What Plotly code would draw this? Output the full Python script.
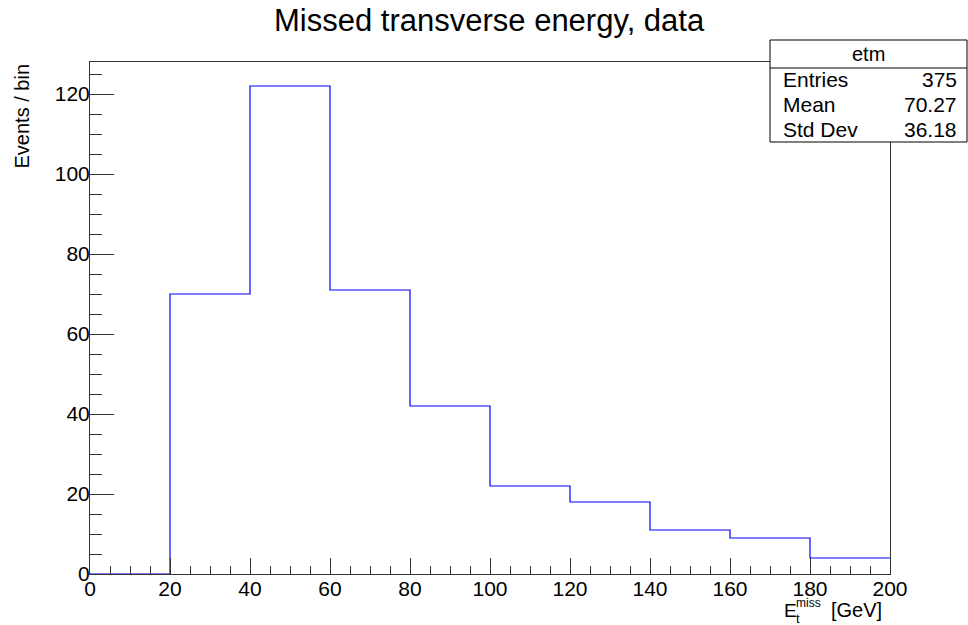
import plotly.graph_objects as go

# ---- data ----
bin_edges = [0, 20, 40, 60, 80, 100, 120, 140, 160, 180, 200]
counts = [0, 70, 122, 71, 42, 22, 18, 11, 9, 4]
x_tickvals = [0, 20, 40, 60, 80, 100, 120, 140, 160, 180, 200]
y_tickvals = [0, 20, 40, 60, 80, 100, 120]
stats_name = "etm"
stats_labels = ["Entries", "Mean", "Std Dev"]
stats_values = ["375", "70.27", "36.18"]

W, H = 968, 625
L, R, T, B = 90, 78, 62, 51
PW, PH = W - L - R, H - T - B

def px(xp):
    return (xp - L) / PW

def py(yp):
    return (H - B - yp) / PH

FONT = "Liberation Sans, Arial, Helvetica, sans-serif"
AX = "#333333"

fig = go.Figure()
fig.add_trace(go.Scatter(
    x=bin_edges,
    y=counts + [counts[-1]],
    mode="lines",
    line=dict(color="#0000ff", width=1.2, shape="hv"),
    hoverinfo="skip",
    showlegend=False,
))

axis_common = dict(
    showgrid=False, zeroline=False, showline=True, mirror=True,
    linecolor=AX, linewidth=1, ticks="inside", tickcolor=AX,
    tickfont=dict(family=FONT, size=21, color="black"),
)

fig.update_layout(
    width=W, height=H,
    margin=dict(l=L, r=R, t=T, b=B),
    paper_bgcolor="white", plot_bgcolor="white",
    font=dict(family=FONT, color="black"),
    xaxis=dict(range=[0, 200], tickvals=x_tickvals, ticklen=16, ticklabelstandoff=-4,
               minor=dict(dtick=5, ticklen=8, ticks="inside", tickcolor=AX, showgrid=False),
               **axis_common),
    yaxis=dict(range=[0, 128], tickvals=y_tickvals, ticklen=24, ticklabelstandoff=-5,
               minor=dict(dtick=5, ticklen=12, ticks="inside", tickcolor=AX, showgrid=False),
               **axis_common),
)

# title
fig.add_annotation(text="Missed transverse energy, data", xref="paper", yref="paper",
                   x=px(489), y=py(20), xanchor="center", yanchor="middle",
                   showarrow=False, font=dict(family=FONT, size=31, color="black"))

# y axis title
fig.add_annotation(text="Events / bin", xref="paper", yref="paper",
                   x=px(21), y=py(62), xanchor="center", yanchor="top", textangle=-90,
                   showarrow=False, font=dict(family=FONT, size=20, color="black"))

# x axis title: E with stacked sub/superscript, then unit
fig.add_annotation(text="E", xref="paper", yref="paper",
                   x=px(782), y=py(610), xanchor="left", yanchor="middle",
                   showarrow=False, font=dict(family=FONT, size=19, color="black"))
fig.add_annotation(text="miss", xref="paper", yref="paper",
                   x=px(794), y=py(603), xanchor="left", yanchor="middle",
                   showarrow=False, font=dict(family=FONT, size=12, color="black"))
fig.add_annotation(text="t", xref="paper", yref="paper",
                   x=px(794), y=py(618), xanchor="left", yanchor="middle",
                   showarrow=False, font=dict(family=FONT, size=13, color="black"))
fig.add_annotation(text="[GeV]", xref="paper", yref="paper",
                   x=px(884), y=py(610), xanchor="right", yanchor="middle",
                   showarrow=False, font=dict(family=FONT, size=20, color="black"))

# stats box
fig.add_shape(type="rect", xref="paper", yref="paper",
              x0=px(770), x1=px(967), y0=py(142), y1=py(40),
              line=dict(color="black", width=1), fillcolor="white", layer="above")
fig.add_shape(type="line", xref="paper", yref="paper",
              x0=px(770), x1=px(967), y0=py(68), y1=py(68),
              line=dict(color="black", width=1), layer="above")
fig.add_annotation(text=stats_name, xref="paper", yref="paper",
                   x=px(868.5), y=py(54), xanchor="center", yanchor="middle",
                   showarrow=False, font=dict(family=FONT, size=20, color="black"))
row_y = [79, 104, 129]
for lab, val, yy in zip(stats_labels, stats_values, row_y):
    fig.add_annotation(text=lab, xref="paper", yref="paper",
                       x=px(781), y=py(yy), xanchor="left", yanchor="middle",
                       showarrow=False, font=dict(family=FONT, size=21, color="black"))
    fig.add_annotation(text=val, xref="paper", yref="paper",
                       x=px(959), y=py(yy), xanchor="right", yanchor="middle",
                       showarrow=False, font=dict(family=FONT, size=21, color="black"))

fig.write_html(
    "out.html",
    config={"displayModeBar": False},
    post_script="document.documentElement.style.margin='0';document.body.style.margin='0';"
                "document.body.style.overflow='hidden';",
)
